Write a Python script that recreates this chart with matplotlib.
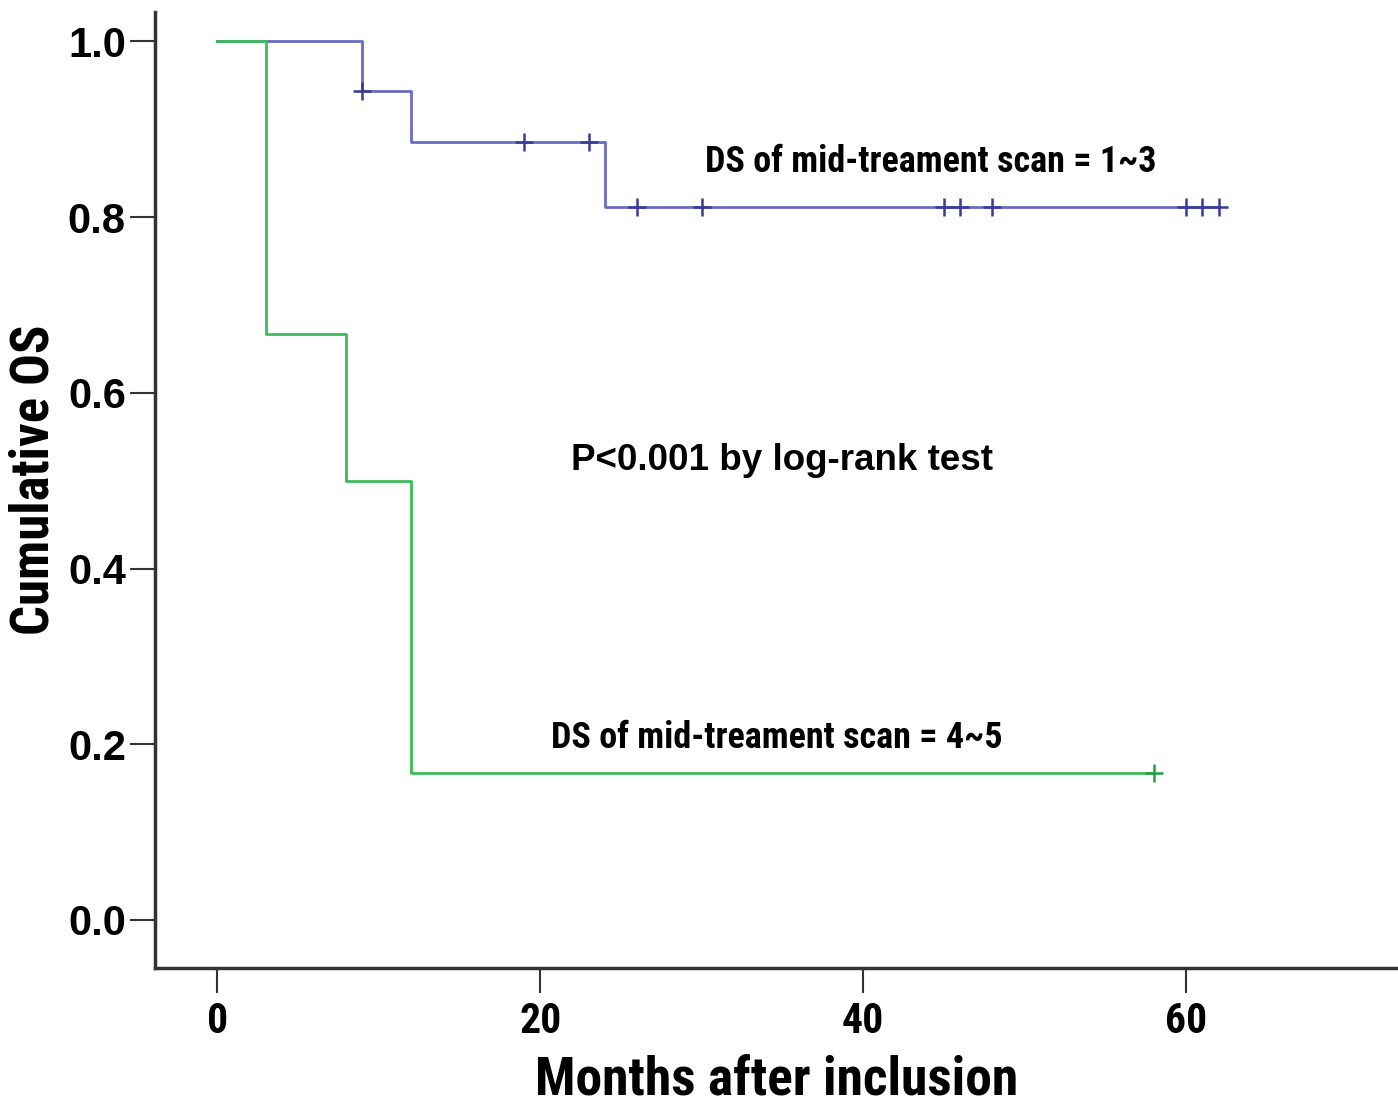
import numpy as np
import matplotlib.pyplot as plt
from matplotlib import font_manager

# Kaplan-Meier step data
blue_times = [0, 9, 12, 24, 62]
blue_surv = [1.0, 0.944, 0.886, 0.812, 0.812]
blue_censor = [9, 19, 23, 26, 30, 45, 46, 48, 60, 61, 62]

green_times = [0, 3, 8, 12, 58]
green_surv = [1.0, 0.667, 0.5, 0.167, 0.167]
green_censor = [58]

x_ticks = [0, 20, 40, 60]
y_ticks = [0.0, 0.2, 0.4, 0.6, 0.8, 1.0]

BLUE = '#6a6ac0'
BLUE_DARK = '#3a3a99'
GREEN = '#3dbb5a'
GREEN_DARK = '#22a040'
AXIS = '#333333'
WIDE = ['Liberation Sans', 'DejaVu Sans']


def narrow_font():
    # pick a condensed family if one is installed, else fall back to Liberation Sans
    names = {f.name for f in font_manager.fontManager.ttflist}
    for name in ['Liberation Sans Narrow', 'DejaVu Sans Condensed', 'Roboto Condensed',
                 'Open Sans Condensed', 'Noto Sans Condensed']:
        if name in names:
            return dict(family=[name, 'DejaVu Sans']), 1.0
    stretched = [f for f in font_manager.fontManager.ttflist
                 if f.name == 'DejaVu Sans' and str(f.stretch) in ('condensed', '75', 'semi-condensed')]
    if stretched:
        return dict(family='DejaVu Sans', stretch='condensed'), 1.0
    return dict(family=['Liberation Sans', 'DejaVu Sans']), 0.85


def censor_y(times, surv, censor):
    idx = np.searchsorted(times, censor, side='right') - 1
    return np.asarray(surv)[idx]


def main():
    nkw, scale = narrow_font()

    fig = plt.figure(figsize=(13.98, 11.06), dpi=100)
    ax = fig.add_axes([0.1109, 0.1248, 0.889, 0.864])

    ax.step(blue_times, blue_surv, where='post', color=BLUE, lw=2)
    ax.plot(blue_censor, censor_y(blue_times, blue_surv, blue_censor), ls='none',
            marker='+', ms=13, mew=1.8, color=BLUE_DARK)
    ax.step(green_times, green_surv, where='post', color=GREEN, lw=2)
    ax.plot(green_censor, censor_y(green_times, green_surv, green_censor), ls='none',
            marker='+', ms=13, mew=1.8, color=GREEN_DARK)

    ax.text(30.2, 0.863, 'DS of mid-treament scan = 1~3', fontsize=26 * scale, fontweight='bold',
            va='center', ha='left', **nkw)
    ax.text(20.7, 0.207, 'DS of mid-treament scan = 4~5', fontsize=26 * scale, fontweight='bold',
            va='center', ha='left', **nkw)
    ax.text(21.9, 0.523, 'P<0.001 by log-rank test', fontsize=26.5, fontweight='bold', family=WIDE,
            va='center', ha='left')

    ax.set_xlim(-3.84, 73.1)
    ax.set_ylim(-0.0546, 1.033)
    ax.set_xticks(x_ticks)
    ax.set_yticks(y_ticks)
    ax.set_yticklabels([f'{v:.1f}' for v in y_ticks], fontsize=30, fontweight='bold', family=WIDE)
    ax.set_xticklabels([str(v) for v in x_ticks], fontsize=30 * scale, fontweight='bold', **nkw)
    ax.tick_params(axis='y', length=18, width=1.5, color=AXIS, pad=3)
    ax.tick_params(axis='x', length=18, width=1.5, color=AXIS, pad=6)

    for side in ['top', 'right']:
        ax.spines[side].set_visible(False)
    for side in ['left', 'bottom']:
        ax.spines[side].set_linewidth(2.5)
        ax.spines[side].set_color(AXIS)

    ax.set_xlabel('Months after inclusion', fontsize=38.5 * scale, fontweight='bold', labelpad=9, **nkw)
    ax.set_ylabel('Cumulative OS', fontsize=38 * scale, fontweight='bold', **nkw)
    ax.yaxis.set_label_coords(-0.0765, 0.511)

    fig.savefig('out.png', dpi=100)
    plt.close(fig)


if __name__ == '__main__':
    main()
